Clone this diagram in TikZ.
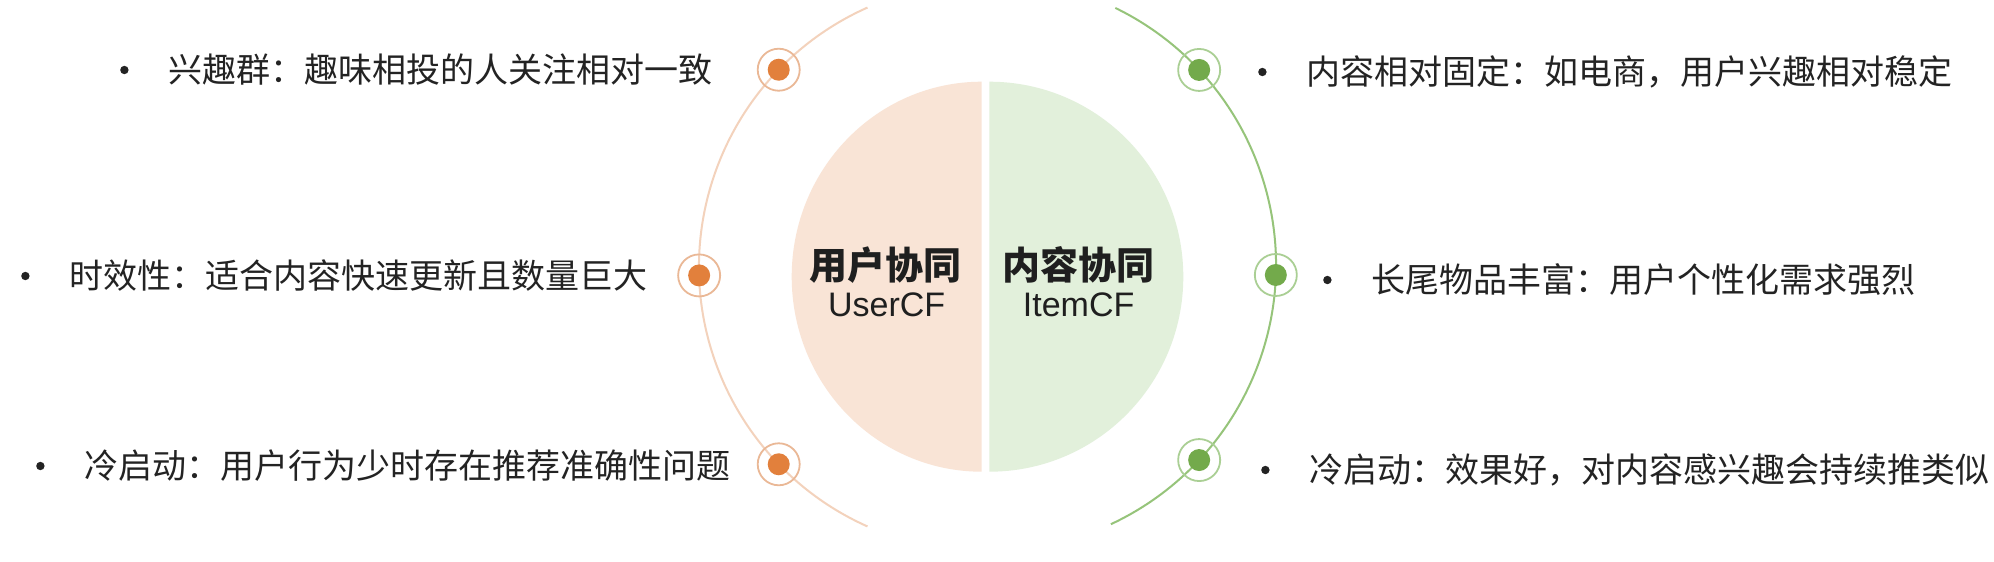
\documentclass[tikz,border=0pt]{standalone}
\usepackage{fontspec}
\setmainfont{Liberation Sans}
\newfontfamily\cjk{Noto Sans CJK SC}
\usepackage{xcolor}
\usetikzlibrary{positioning,calc}
\definecolor{Peach}{RGB}{249,228,214}
\definecolor{Mint}{RGB}{226,240,219}
\definecolor{Carrot}{RGB}{226,128,60}
\definecolor{CarrotRing}{RGB}{234,184,150}
\definecolor{CarrotArc}{RGB}{243,210,188}
\definecolor{Leaf}{RGB}{115,170,75}
\definecolor{LeafRing}{RGB}{170,207,148}
\definecolor{LeafArc}{RGB}{150,196,122}
\definecolor{Ink}{RGB}{35,35,35}

\begin{document}
\begin{tikzpicture}[x=0.5pt,y=0.5pt,
    item/.style={anchor=west,inner sep=0pt,text=Ink,font=\cjk\fontsize{17pt}{20pt}\selectfont},
    bullet/.style={circle,fill=Ink,inner sep=0pt,minimum size=4.2pt},
    title/.style={inner sep=0pt,text=black!88,font=\cjk\bfseries\fontsize{19pt}{22pt}\selectfont},
    subtitle/.style={inner sep=0pt,text=black!88,font=\fontsize{17pt}{20pt}\selectfont},
    ring/.style={circle,inner sep=0pt,minimum size=21pt,line width=0.9pt},
    dot/.style={circle,inner sep=0pt,minimum size=11pt}]
    \useasboundingbox (0,0) rectangle (1994,-562);
    \fill[white] (0,0) rectangle (1994,-562);

    % the two halves
    \fill[Peach] (981.7,-81.7) arc[start angle=90,end angle=270,x radius=190,y radius=195] -- cycle;
    \fill[Mint] (989.3,-81.7) arc[start angle=90,end angle=-90,x radius=194,y radius=195] -- cycle;
    \node[title] (usertitle) at (885,-265) {用户协同};
    \node[subtitle] (usersub) at (886.6,-305) {UserCF};
    \node[title] (itemtitle) at (1078.5,-265) {内容协同};
    \node[subtitle] (itemsub) at (1078.6,-305) {ItemCF};

    % arcs
    \coordinate (uc) at (983,-267);
    \coordinate (ic) at (990,-265);
    \draw[CarrotArc,line width=1pt] ($(uc)+(114:284)$) arc[start angle=114,end angle=246,radius=284];
    \draw[LeafArc,line width=1pt] ($(ic)+(64:286)$) arc[start angle=64,end angle=-65,radius=286];

    % markers
    \node[ring,draw=CarrotRing] (uring1) at ($(uc)+(136:284)$) {};
    \node[dot,fill=Carrot] (udot1) at (uring1) {};
    \node[ring,draw=CarrotRing] (uring2) at ($(uc)+(181.7:284)$) {};
    \node[dot,fill=Carrot] (udot2) at (uring2) {};
    \node[ring,draw=CarrotRing] (uring3) at ($(uc)+(224:284)$) {};
    \node[dot,fill=Carrot] (udot3) at (uring3) {};
    \node[ring,draw=LeafRing] (iring1) at ($(ic)+(43:286)$) {};
    \node[dot,fill=Leaf] (idot1) at (iring1) {};
    \node[ring,draw=LeafRing] (iring2) at ($(ic)+(-2:286)$) {};
    \node[dot,fill=Leaf] (idot2) at (iring2) {};
    \node[ring,draw=LeafRing] (iring3) at ($(ic)+(-43:286)$) {};
    \node[dot,fill=Leaf] (idot3) at (iring3) {};

    % UserCF points
    \node[item] (utext1) at (168,-70) {兴趣群：趣味相投的人关注相对一致};
    \node[bullet,left=19.5pt of utext1.west] (ubul1) {};
    \node[item] (utext2) at (69,-276) {时效性：适合内容快速更新且数量巨大};
    \node[bullet,left=19.5pt of utext2.west] (ubul2) {};
    \node[item] (utext3) at (84,-466) {冷启动：用户行为少时存在推荐准确性问题};
    \node[bullet,left=19.5pt of utext3.west] (ubul3) {};

    % ItemCF points
    \node[item] (itext1) at (1306,-72) {内容相对固定：如电商，用户兴趣相对稳定};
    \node[bullet,left=19.5pt of itext1.west] (ibul1) {};
    \node[item] (itext2) at (1371,-280) {长尾物品丰富：用户个性化需求强烈};
    \node[bullet,left=19.5pt of itext2.west] (ibul2) {};
    \node[item] (itext3) at (1309,-470) {冷启动：效果好，对内容感兴趣会持续推类似};
    \node[bullet,left=19.5pt of itext3.west] (ibul3) {};
\end{tikzpicture}
\end{document}
